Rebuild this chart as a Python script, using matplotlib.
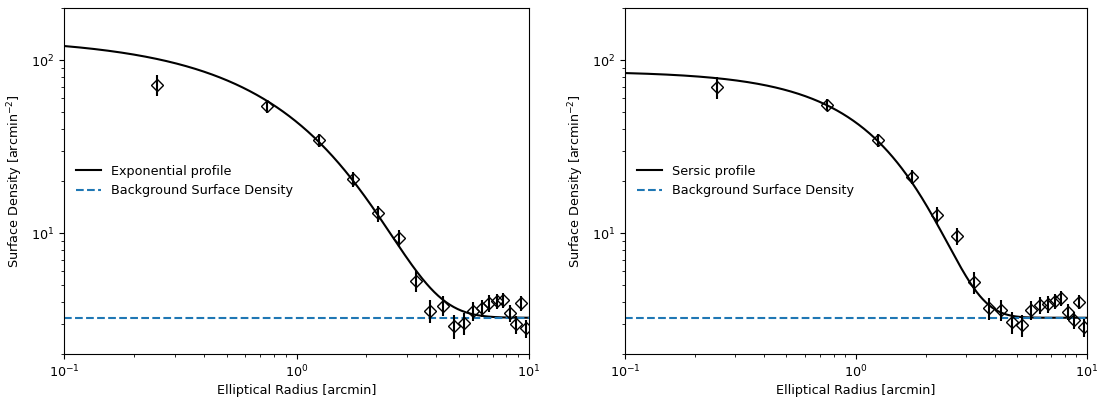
import numpy as np
import matplotlib
matplotlib.use("Agg")
import matplotlib.pyplot as plt

plt.rcParams["font.size"] = 9.2

# ---- data ----
radius = [0.25, 0.75, 1.25, 1.75, 2.25, 2.75, 3.25, 3.75, 4.25, 4.75,
          5.25, 5.75, 6.25, 6.75, 7.25, 7.75, 8.25, 8.75, 9.25, 9.75]

dens_exp = [71.7, 54.2, 34.5, 20.5, 13.0, 9.36, 5.3, 3.56, 3.80, 2.90,
            3.01, 3.54, 3.70, 3.95, 4.05, 4.10, 3.46, 2.97, 3.93, 2.81]
err_exp = [10.0, 4.5, 3.0, 2.0, 1.4, 1.1, 0.75, 0.52, 0.5, 0.45,
           0.44, 0.44, 0.43, 0.43, 0.42, 0.42, 0.38, 0.35, 0.38, 0.33]

dens_ser = [69.5, 55.0, 34.5, 21.1, 12.7, 9.6, 5.2, 3.67, 3.59, 3.07,
            2.94, 3.59, 3.84, 3.89, 4.05, 4.19, 3.51, 3.15, 4.00, 2.85]
err_ser = [10.0, 4.5, 3.0, 2.0, 1.4, 1.1, 0.75, 0.52, 0.5, 0.45,
           0.44, 0.44, 0.43, 0.43, 0.42, 0.42, 0.38, 0.35, 0.38, 0.33]

background = 3.24

# model parameters
exp_amp, exp_rh = 132.0, 0.85
ser_amp, ser_a, ser_n = 83.0, 1.25, 0.69

xlim = (0.1, 10)
ylim = (2.0, 200)

r_model = np.logspace(np.log10(xlim[0]), np.log10(xlim[1]), 600)
exp_model = exp_amp * np.exp(-r_model / exp_rh) + background
ser_model = ser_amp * np.exp(-(r_model / ser_a) ** (1.0 / ser_n)) + background

fig = plt.figure(figsize=(10.98, 4.0), dpi=100)
ax1 = fig.add_axes([64 / 1098, 46 / 400, 465 / 1098, 346 / 400])
ax2 = fig.add_axes([625 / 1098, 46 / 400, 462 / 1098, 346 / 400])

panels = [
    (ax1, dens_exp, err_exp, exp_model, "Exponential profile"),
    (ax2, dens_ser, err_ser, ser_model, "Sersic profile"),
]

for ax, dens, err, model, label in panels:
    ax.errorbar(radius, dens, yerr=err, fmt="D", mfc="none", mec="k",
                ecolor="k", ms=6.5, mew=1.0, elinewidth=1.5, zorder=3)
    ax.plot(r_model, model, color="k", lw=1.5, label=label)
    ax.plot(list(xlim), [background, background], color="#1f77b4", ls="--",
            lw=1.5, label="Background Surface Density")
    ax.set_xscale("log")
    ax.set_yscale("log")
    ax.set_xlim(*xlim)
    ax.set_ylim(*ylim)
    ax.set_xlabel("Elliptical Radius [arcmin]", labelpad=3)
    ax.set_ylabel("Surface Density [arcmin$^{-2}$]")
    ax.legend(loc="center left", frameon=False)

fig.savefig("out.png", dpi=100)
